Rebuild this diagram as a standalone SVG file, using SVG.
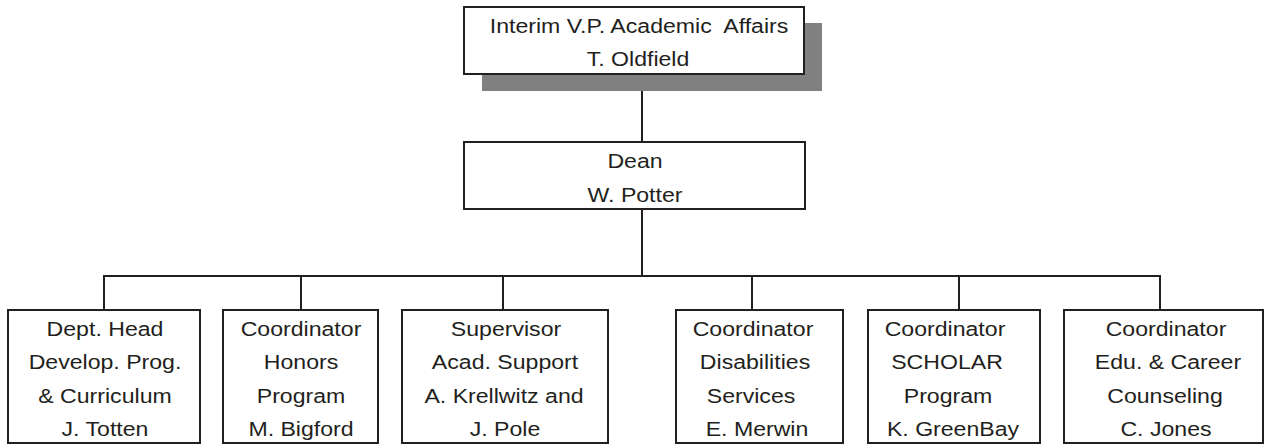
<svg xmlns="http://www.w3.org/2000/svg" width="1265" height="445" viewBox="0 0 1265 445">
<style>
.box{fill:#fff;stroke:#231f20;stroke-width:2}
.shadow{fill:#808080}
.ln{stroke:#231f20;stroke-width:2;fill:none}
.t{font-family:"Liberation Sans",Arial,sans-serif;font-size:21px;text-anchor:middle;fill:#231f20;white-space:pre}
</style>
<rect width="1265" height="445" fill="#fff"/>
<g id="connectors">
<line class="ln" x1="642" y1="91" x2="642" y2="142"/>
<line class="ln" x1="642" y1="209" x2="642" y2="276"/>
<line class="ln" x1="103" y1="276" x2="1161" y2="276"/>
<line class="ln" x1="104" y1="276" x2="104" y2="310"/>
<line class="ln" x1="301" y1="276" x2="301" y2="310"/>
<line class="ln" x1="503" y1="276" x2="503" y2="310"/>
<line class="ln" x1="752" y1="276" x2="752" y2="310"/>
<line class="ln" x1="959" y1="276" x2="959" y2="310"/>
<line class="ln" x1="1160" y1="276" x2="1160" y2="310"/>
</g>
<g id="vp">
<rect class="shadow" x="482" y="23" width="340" height="68"/>
<rect class="box" x="464" y="7" width="340" height="67"/>
<text class="t" transform="translate(639,33) scale(1.1,1)">Interim V.P. Academic  Affairs</text>
<text class="t" transform="translate(638,66) scale(1.1,1)">T. Oldfield</text>
</g>
<g id="dean">
<rect class="box" x="464" y="142" width="341" height="67"/>
<text class="t" transform="translate(635,168) scale(1.1,1)">Dean</text>
<text class="t" transform="translate(635,202) scale(1.1,1)">W. Potter</text>
</g>
<g id="totten">
<rect class="box" x="8" y="310" width="192" height="133"/>
<text class="t" transform="translate(105,336) scale(1.1,1)">Dept. Head</text>
<text class="t" transform="translate(105,369) scale(1.1,1)">Develop. Prog.</text>
<text class="t" transform="translate(105,403) scale(1.1,1)">&amp; Curriculum</text>
<text class="t" transform="translate(105,436) scale(1.1,1)">J. Totten</text>
</g>
<g id="bigford">
<rect class="box" x="223" y="310" width="155" height="133"/>
<text class="t" transform="translate(301,336) scale(1.1,1)">Coordinator</text>
<text class="t" transform="translate(301,369) scale(1.1,1)">Honors</text>
<text class="t" transform="translate(301,403) scale(1.1,1)">Program</text>
<text class="t" transform="translate(301,436) scale(1.1,1)">M. Bigford</text>
</g>
<g id="krellwitz">
<rect class="box" x="402" y="310" width="206" height="133"/>
<text class="t" transform="translate(506,336) scale(1.1,1)">Supervisor</text>
<text class="t" transform="translate(505,369) scale(1.1,1)">Acad. Support</text>
<text class="t" transform="translate(504,403) scale(1.1,1)">A. Krellwitz and</text>
<text class="t" transform="translate(505,436) scale(1.1,1)">J. Pole</text>
</g>
<g id="merwin">
<rect class="box" x="676" y="310" width="167" height="133"/>
<text class="t" transform="translate(753,336) scale(1.1,1)">Coordinator</text>
<text class="t" transform="translate(755,369) scale(1.1,1)">Disabilities</text>
<text class="t" transform="translate(751,403) scale(1.1,1)">Services</text>
<text class="t" transform="translate(757,436) scale(1.1,1)">E. Merwin</text>
</g>
<g id="greenbay">
<rect class="box" x="868" y="310" width="172" height="133"/>
<text class="t" transform="translate(945,336) scale(1.1,1)">Coordinator</text>
<text class="t" transform="translate(947,369) scale(1.1,1)">SCHOLAR</text>
<text class="t" transform="translate(948,403) scale(1.1,1)">Program</text>
<text class="t" transform="translate(953,436) scale(1.1,1)">K. GreenBay</text>
</g>
<g id="jones">
<rect class="box" x="1064" y="310" width="199" height="133"/>
<text class="t" transform="translate(1166,336) scale(1.1,1)">Coordinator</text>
<text class="t" transform="translate(1168,369) scale(1.1,1)">Edu. &amp; Career</text>
<text class="t" transform="translate(1165,403) scale(1.1,1)">Counseling</text>
<text class="t" transform="translate(1166,436) scale(1.1,1)">C. Jones</text>
</g>
</svg>
